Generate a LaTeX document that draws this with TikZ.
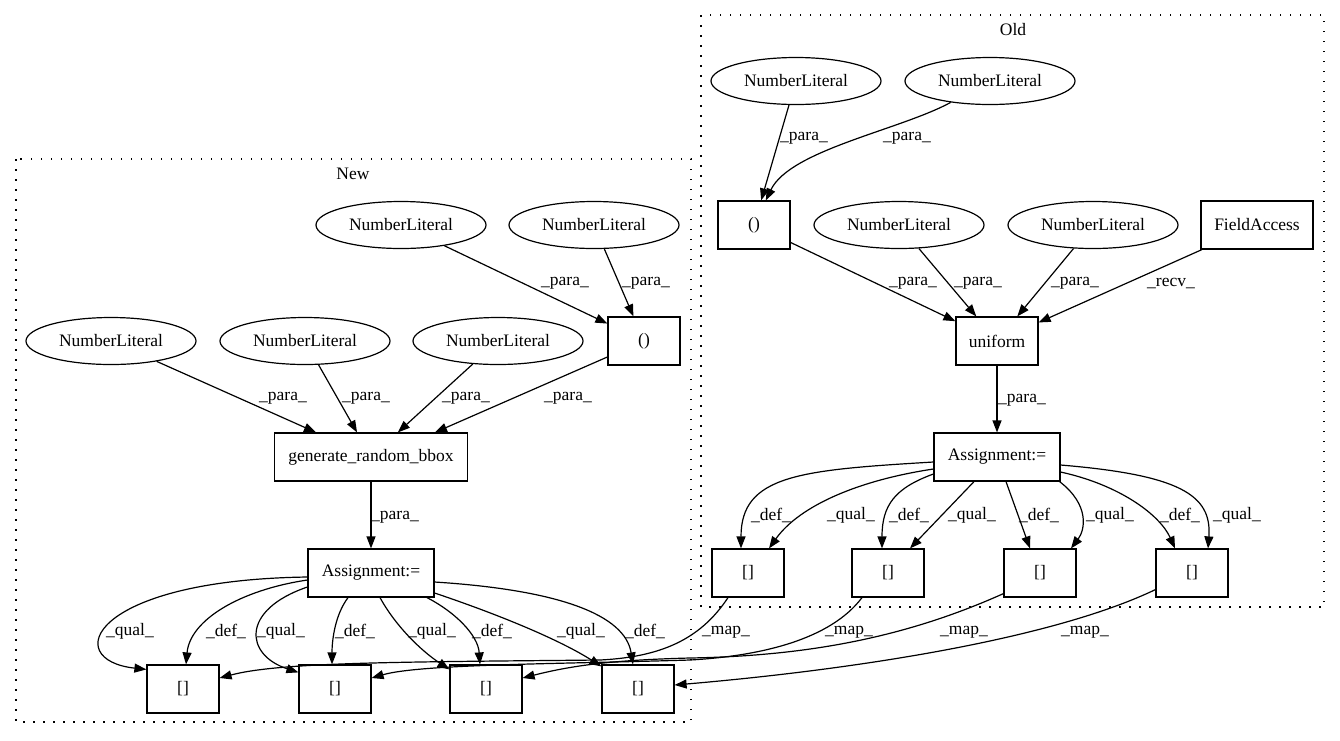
\documentclass[tikz,border=0pt]{standalone}
\usepackage{fontspec}
\setmainfont{Liberation Serif}
\usetikzlibrary{arrows.meta,shapes.geometric}
\begin{document}
\begin{tikzpicture}[x=1pt,y=-1pt,
  every node/.style={font=\fontsize{17.5}{20}\selectfont},
  box/.style={draw, rectangle, minimum height=48pt, inner sep=0pt, line width=1.2pt},
  ell/.style={draw, ellipse, minimum width=170pt, minimum height=47pt, inner sep=0pt, line width=1.2pt},
  edge/.style={-{Triangle[length=12pt,width=9pt]}, line width=1.2pt},
  lab/.style={inner sep=0pt},
  clus/.style={line width=1.3pt, dash pattern=on 1.5pt off 8.5pt}]
\useasboundingbox (0,0) rectangle (1340,740);

% clusters
\draw[clus] (16,159) rectangle (691,722);
\node[lab] (tnew) at (353,174) {New};
\draw[clus] (701,15) rectangle (1324,607);
\node[lab] (told) at (1013,30) {Old};

% Old nodes
\node[ell] (o_nl1) at (796,81) {NumberLiteral};
\node[ell] (o_nl2) at (990,81) {NumberLiteral};
\node[box, minimum width=72pt] (o_tup) at (754,225) {()};
\node[ell] (o_nl3) at (899,225) {NumberLiteral};
\node[ell] (o_nl4) at (1093,225) {NumberLiteral};
\node[box, minimum width=112pt] (o_fa) at (1257,225) {FieldAccess};
\node[box, minimum width=82pt] (o_uni) at (997,341) {uniform};
\node[box, minimum width=126pt] (o_asg) at (997,457) {Assignment:=};
\node[box, minimum width=72pt] (o_b1) at (748,573) {{[]}};
\node[box, minimum width=72pt] (o_b2) at (888,573) {{[]}};
\node[box, minimum width=72pt] (o_b3) at (1040,573) {{[]}};
\node[box, minimum width=72pt] (o_b4) at (1192,573) {{[]}};

% New nodes
\node[ell] (n_nla) at (401,225) {NumberLiteral};
\node[ell] (n_nlb) at (594,225) {NumberLiteral};
\node[box, minimum width=72pt] (n_tup) at (644,341) {()};
\node[ell] (n_nlc) at (111,341) {NumberLiteral};
\node[ell] (n_nld) at (305,341) {NumberLiteral};
\node[ell] (n_nle) at (498,341) {NumberLiteral};
\node[box, minimum width=193pt] (n_gen) at (371,457) {generate\_random\_bbox};
\node[box, minimum width=126pt] (n_asg) at (371,573) {Assignment:=};
\node[box, minimum width=72pt] (n_b1) at (183,689) {{[]}};
\node[box, minimum width=72pt] (n_b2) at (335,689) {{[]}};
\node[box, minimum width=72pt] (n_b3) at (486,689) {{[]}};
\node[box, minimum width=72pt] (n_b4) at (638,689) {{[]}};

% Old edges
\draw[edge] (o_nl1) -- (o_tup);
\draw[edge] (o_nl2) .. controls (900,130) and (790,150) .. (o_tup);
\draw[edge] (o_tup) -- (o_uni);
\draw[edge] (o_nl3) -- (o_uni);
\draw[edge] (o_nl4) -- (o_uni);
\draw[edge] (o_fa) -- (o_uni);
\draw[edge] (o_uni) -- (o_asg);
\draw[edge] ([yshift=-5pt]o_asg.west) .. controls (800,470) and (741,475) .. ([xshift=-7pt]o_b1.north);
\draw[edge] ([yshift=-12pt]o_asg.west) .. controls (860,480) and (800,505) .. ([xshift=21pt]o_b1.north);
\draw[edge] ([yshift=-17pt]o_asg.west) .. controls (895,488) and (882,505) .. ([xshift=-6pt]o_b2.north);
\draw[edge] ([xshift=-23pt]o_asg.south) -- ([xshift=22pt]o_b2.north);
\draw[edge] ([xshift=9pt]o_asg.south) -- ([xshift=-10pt]o_b3.north);
\draw[edge] ([xshift=-1pt]o_asg.south east) .. controls (1090,505) and (1085,530) .. ([xshift=31pt]o_b3.north);
\draw[edge] ([yshift=-15pt]o_asg.east) .. controls (1120,485) and (1160,515) .. ([xshift=-17pt]o_b4.north);
\draw[edge] ([yshift=-8pt]o_asg.east) .. controls (1180,475) and (1212,495) .. ([xshift=16pt]o_b4.north);

% New edges
\draw[edge] (n_nla) -- (n_tup);
\draw[edge] (n_nlb) -- (n_tup);
\draw[edge] (n_nlc) -- (n_gen);
\draw[edge] (n_nld) -- (n_gen);
\draw[edge] (n_nle) -- (n_gen);
\draw[edge] (n_tup) -- ([xshift=64pt]n_gen.north);
\draw[edge] (n_gen) -- (n_asg);
\draw[edge] ([yshift=-4pt]n_asg.west) .. controls (90,580) and (60,660) .. ([yshift=-5pt]n_b1.north west);
\draw[edge] ([yshift=-7pt]n_asg.west) .. controls (240,590) and (190,620) .. ([xshift=3pt]n_b1.north);
\draw[edge] ([yshift=-14pt]n_asg.west) .. controls (240,610) and (245,655) .. ([yshift=-8pt]n_b2.north west);
\draw[edge] ([xshift=-23pt]n_asg.south) .. controls (335,615) and (332,640) .. ([xshift=-3pt]n_b2.north);
\draw[edge] ([xshift=9pt]n_asg.south) .. controls (395,625) and (420,650) .. ([yshift=-5pt]n_b3.north west);
\draw[edge] ([xshift=56pt]n_asg.south) .. controls (455,612) and (478,635) .. ([xshift=-6pt]n_b3.north);
\draw[edge] ([yshift=-20pt]n_asg.east) .. controls (500,615) and (560,640) .. ([yshift=-2pt]n_b4.north west);
\draw[edge] ([yshift=-9pt]n_asg.east) .. controls (560,590) and (625,615) .. ([xshift=-5pt]n_b4.north);

% map edges
\draw[edge] ([xshift=-20pt]o_b1.south) .. controls (700,640) and (660,657) .. (600,660) .. controls (400,662) and (280,662) .. ([yshift=11pt]n_b1.east);
\draw[edge] ([xshift=-26pt]o_b2.south) .. controls (830,640) and (760,656) .. (690,660) .. controls (560,664) and (420,664) .. ([yshift=11pt]n_b2.east);
\draw[edge] ([yshift=4pt]o_b3.south west) .. controls (900,640) and (800,656) .. (690,658) .. controls (610,660) and (570,666) .. ([yshift=11pt]n_b3.east);
\draw[edge] ([yshift=8pt]o_b4.south west) .. controls (1050,640) and (850,670) .. ([yshift=4pt]n_b4.east);

% labels old
\node[lab] (lo1) at (804,138) {\_para\_};
\node[lab] (lo2) at (907,138) {\_para\_};
\node[lab] (lo3) at (913,283) {\_para\_};
\node[lab] (lo4) at (978,283) {\_para\_};
\node[lab] (lo5) at (1075,283) {\_para\_};
\node[lab] (lo6) at (1171,283) {\_recv\_};
\node[lab] (lo7) at (1022,400) {\_para\_};
\node[lab] (lo8) at (771,515) {\_def\_};
\node[lab] (lo9) at (851,515) {\_qual\_};
\node[lab] (lo10) at (909,515) {\_def\_};
\node[lab] (lo11) at (972,515) {\_qual\_};
\node[lab] (lo12) at (1039,515) {\_def\_};
\node[lab] (lo13) at (1110,515) {\_qual\_};
\node[lab] (lo14) at (1180,515) {\_def\_};
\node[lab] (lo15) at (1237,515) {\_qual\_};

% labels new
\node[lab] (ln1) at (565,283) {\_para\_};
\node[lab] (ln2) at (646,283) {\_para\_};
\node[lab] (ln3) at (283,398) {\_para\_};
\node[lab] (ln4) at (366,398) {\_para\_};
\node[lab] (ln5) at (466,398) {\_para\_};
\node[lab] (ln6) at (568,398) {\_para\_};
\node[lab] (ln7) at (395,517) {\_para\_};
\node[lab] (ln8) at (130,631) {\_qual\_};
\node[lab] (ln9) at (226,631) {\_def\_};
\node[lab] (ln10) at (281,631) {\_qual\_};
\node[lab] (ln11) at (355,631) {\_def\_};
\node[lab] (ln12) at (432,631) {\_qual\_};
\node[lab] (ln13) at (492,631) {\_def\_};
\node[lab] (ln14) at (581,631) {\_qual\_};
\node[lab] (ln15) at (645,631) {\_def\_};

% map labels
\node[lab] (lm1) at (726,632) {\_map\_};
\node[lab] (lm2) at (849,632) {\_map\_};
\node[lab] (lm3) at (964,632) {\_map\_};
\node[lab] (lm4) at (1085,632) {\_map\_};
\end{tikzpicture}
\end{document}
